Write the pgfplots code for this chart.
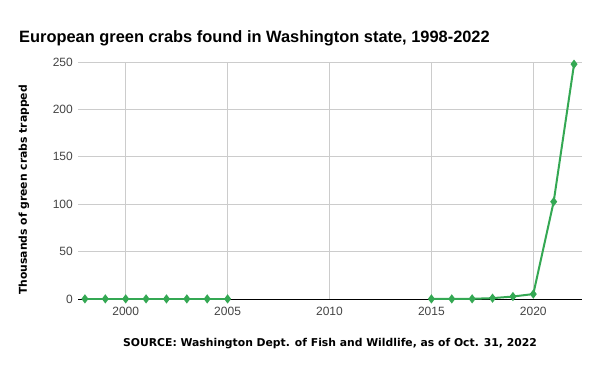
\documentclass[border=0pt]{standalone}
\usepackage{pgfplots}
\pgfplotsset{compat=1.18}
\usepackage{fontspec}
\setmainfont{Liberation Sans}
\newfontfamily\srcfont{DejaVu Sans}
\definecolor{crab}{HTML}{34A853}
\definecolor{gridc}{HTML}{CCCCCC}
\definecolor{tickc}{HTML}{444444}
\begin{document}
\begin{tikzpicture}[x=1pt,y=1pt]
\path[use as bounding box, fill=white] (0,0) rectangle (600,371);
\begin{axis}[
  at={(78pt,72pt)}, anchor=south west,
  scale only axis, width=504pt, height=237pt,
  xmin=1997.66, xmax=2022.39, ymin=0, ymax=250,
  xtick={2000,2005,2010,2015,2020},
  ytick={0,50,100,150,200,250},
  xticklabels={2000,2005,2010,2015,2020},
  yticklabels={0,50,100,150,200,250},
  grid=major, major grid style={gridc, line width=0.8pt},
  axis x line=bottom, axis y line=left,
  y axis line style={draw=none},
  x axis line style={-, black, line width=0.8pt},
  major tick length=0pt,
  tick label style={font=\fontsize{12}{14}\selectfont, text=tickc},
  yticklabel style={inner sep=0pt, xshift=-5pt},
  xticklabel style={inner sep=0pt, yshift=-8pt},
  clip=false,
]
\addplot[crab, line width=2pt, mark=diamond*, mark size=3pt, mark options={solid, fill=crab}] coordinates {
  (1998,0.1) (1999,0.1) (2000,0.1) (2001,0.1) (2002,0.1) (2003,0.1) (2004,0.1) (2005,0.1)
};
\addplot[crab, line width=2pt, mark=diamond*, mark size=3pt, mark options={solid, fill=crab}] coordinates {
  (2015,0.1) (2016,0.1) (2017,0.2) (2018,0.9) (2019,2.6) (2020,5.2) (2021,102.6) (2022,247.7)
};
\end{axis}
\node[anchor=base west, inner sep=0pt, font=\fontsize{16.4}{19}\selectfont\bfseries] at (19,328) {European green crabs found in Washington state, 1998-2022};
\node[rotate=90, inner sep=0pt, font=\fontsize{10.8}{13}\selectfont\srcfont\bfseries] at (24,181) {Thousands of green crabs trapped};
\node[inner sep=0pt, font=\fontsize{10.8}{13}\selectfont\srcfont\bfseries] at (330,27) {SOURCE: Washington Dept. of Fish and Wildlife, as of Oct. 31, 2022};
\end{tikzpicture}
\end{document}
